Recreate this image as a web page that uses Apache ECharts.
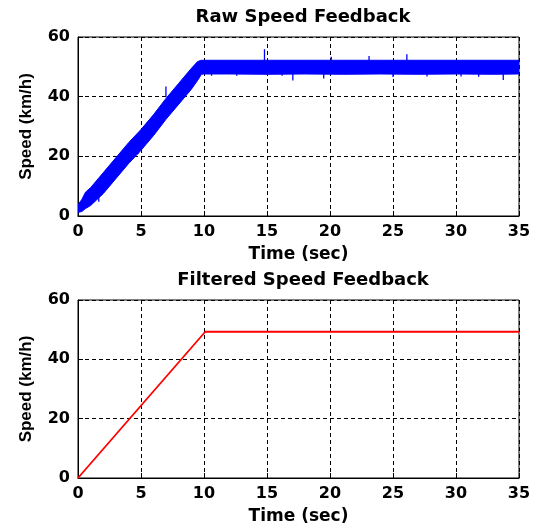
<!DOCTYPE html>
<html>
<head>
<meta charset="utf-8">
<script src="https://cdn.jsdelivr.net/npm/echarts@6/dist/echarts.min.js"></script>
<style>
  html, body { margin: 0; padding: 0; background: #fff; }
  #chart { width: 539px; height: 532px; }
</style>
</head>
<body>
<div id="chart"></div>
<script>
// Raw speed feedback: envelope of the noisy signal (km/h) over time (sec)
const rawTime = [0, 0.3, 0.6, 1, 2, 3, 4, 5, 6, 7, 8, 9, 9.5, 9.8, 10, 12, 15, 18, 21, 24, 27, 30, 33, 35];
const rawLow  = [1.2, 1.5, 2.5, 3.5, 7.5, 12.5, 17.5, 22, 27, 32.5, 37.5, 42.5, 45.5, 47.5, 47.6, 47.6, 47.5, 47.6, 47.5, 47.6, 47.5, 47.6, 47.5, 47.6];
const rawHigh = [3.8, 5.5, 8, 9.5, 14.5, 19.5, 24.5, 29, 34, 39.5, 44.5, 49.5, 51.8, 52.2, 52.2, 52.2, 52.2, 52.2, 52.2, 52.2, 52.2, 52.2, 52.2, 52.2];

// Isolated noise spikes: time, start value, end value
const spikeTime = [1.65, 4.76, 6.98, 9.6, 10.6, 12.6, 14.8, 16.2, 17.05, 19.5, 20.1, 23.1, 25.0, 26.1, 27.7, 30.4, 31.8, 33.75];
const spikeFrom = [6.5, 24.5, 39.8, 48.5, 48.5, 48.5, 52.0, 48.5, 48.5, 48.5, 52.0, 52.0, 48.5, 52.0, 48.5, 48.5, 48.5, 48.5];
const spikeTo   = [4.8, 20.8, 43.4, 46.7, 47.0, 47.0, 55.9, 47.0, 45.4, 46.1, 53.4, 53.6, 46.6, 54.2, 46.8, 46.8, 46.7, 45.6];

// Filtered speed feedback
const filtTime  = [0, 10.1, 35];
const filtSpeed = [0, 49.3, 49.3];

// Axis ticks
const xTicks = { min: 0, max: 35, interval: 5 };
const yTicks = { min: 0, max: 60, interval: 20 };

const TXT = '#000';
const tickFont = { fontFamily: 'DejaVu Sans', fontWeight: 'bold', fontSize: 16, color: TXT };
const nameFont = { fontFamily: 'DejaVu Sans', fontWeight: 'bold', fontSize: 17, color: TXT };
const yNameFont = { fontFamily: 'Liberation Sans', fontWeight: 'bold', fontSize: 17, color: TXT };

function xAxisFor(gridIndex) {
  return {
    type: 'value', gridIndex,
    min: xTicks.min, max: xTicks.max, interval: xTicks.interval,
    name: 'Time (sec)', nameLocation: 'middle', nameGap: 30,
    nameTextStyle: nameFont,
    axisLine: { show: true, lineStyle: { color: '#000', width: 1 } },
    axisTick: { show: true, inside: true, length: 5, lineStyle: { color: '#000' } },
    axisLabel: Object.assign({ margin: 8 }, tickFont),
    splitLine: { show: true, lineStyle: { color: '#000', type: [4, 3], width: 1 } }
  };
}
function yAxisFor(gridIndex) {
  return {
    type: 'value', gridIndex,
    min: yTicks.min, max: yTicks.max, interval: yTicks.interval,
    name: 'Speed (km/h)', nameLocation: 'middle', nameGap: 43,
    nameTextStyle: yNameFont,
    axisLine: { show: true, lineStyle: { color: '#000', width: 1 } },
    axisTick: { show: true, inside: true, length: 5, lineStyle: { color: '#000' } },
    axisLabel: Object.assign({ margin: 8 }, tickFont),
    splitLine: { show: true, lineStyle: { color: '#000', type: [4, 3], width: 1 } }
  };
}

const band = rawTime.map((t, i) => [t, rawLow[i], rawHigh[i]]);
const spikes = spikeTime.map((t, i) => [t, spikeFrom[i], spikeTo[i]]);
const filtered = filtTime.map((t, i) => [t, filtSpeed[i]]);

// Draws the raw-signal band as one filled polygon (upper edge forward, lower edge back)
function renderBand(params, api) {
  if (params.dataIndex !== 0) return null;
  const pts = [];
  for (let i = 0; i < band.length; i++) pts.push(api.coord([band[i][0], band[i][2]]));
  for (let i = band.length - 1; i >= 0; i--) pts.push(api.coord([band[i][0], band[i][1]]));
  return {
    type: 'polygon',
    shape: { points: pts },
    style: { fill: '#0000ff', stroke: '#0000ff', lineWidth: 1 }
  };
}

const chart = echarts.init(document.getElementById('chart'), null, { renderer: 'canvas' });
chart.setOption({
  backgroundColor: '#fff',
  animation: false,
  title: [
    { text: 'Raw Speed Feedback', left: 298, top: 3, textAlign: 'center',
      textStyle: { fontFamily: 'DejaVu Sans', fontWeight: 'bold', fontSize: 18, color: TXT } },
    { text: 'Filtered Speed Feedback', left: 298, top: 266, textAlign: 'center',
      textStyle: { fontFamily: 'DejaVu Sans', fontWeight: 'bold', fontSize: 18, color: TXT } }
  ],
  grid: [
    { left: 78, top: 37, width: 441, height: 179, show: true, borderColor: '#000', borderWidth: 1, backgroundColor: 'transparent' },
    { left: 78, top: 300, width: 441, height: 178, show: true, borderColor: '#000', borderWidth: 1, backgroundColor: 'transparent' }
  ],
  xAxis: [xAxisFor(0), xAxisFor(1)],
  yAxis: [yAxisFor(0), yAxisFor(1)],
  series: [
    {
      name: 'Raw Speed', type: 'custom', xAxisIndex: 0, yAxisIndex: 0,
      data: band, encode: { x: 0, y: [1, 2] },
      clip: true, renderItem: renderBand
    },
    {
      name: 'spikes', type: 'custom', xAxisIndex: 0, yAxisIndex: 0,
      data: spikes, encode: { x: 0, y: [1, 2] }, clip: true,
      renderItem: function (params, api) {
        const a = api.coord([api.value(0), api.value(1)]);
        const b = api.coord([api.value(0), api.value(2)]);
        return { type: 'line', shape: { x1: a[0], y1: a[1], x2: b[0], y2: b[1] },
                 style: { stroke: '#0000ff', lineWidth: 1.3 } };
      }
    },
    {
      name: 'Filtered Speed', type: 'line', xAxisIndex: 1, yAxisIndex: 1,
      data: filtered, showSymbol: false, symbol: 'none',
      lineStyle: { width: 1.8, color: '#ff0000' }
    }
  ]
});
</script>
</body>
</html>
